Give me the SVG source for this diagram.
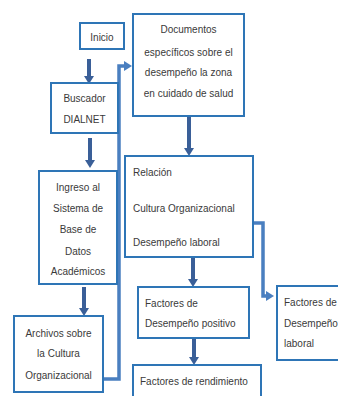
<svg xmlns="http://www.w3.org/2000/svg" width="338" height="396" viewBox="0 0 338 396">
<style>
.box{fill:#fff;stroke:#2e75b6;stroke-width:2}
.t{font-family:"Liberation Sans",Arial,sans-serif;font-size:10px;fill:#3a3a3a}
.c{text-anchor:middle}
.down{stroke:#3a5f98;stroke-width:4;fill:none}
.link{stroke:#4a7fc0;stroke-width:3.5;fill:none}
</style>
<defs>
<marker id="hd" viewBox="0 -5 8 10" refX="0" refY="0" markerUnits="userSpaceOnUse" markerWidth="8" markerHeight="10" orient="auto">
<path d="M0,-5 L8,0 L0,5 z" fill="#3a5f98"/>
</marker>
<marker id="hl" viewBox="0 -5 8 10" refX="0" refY="0" markerUnits="userSpaceOnUse" markerWidth="8" markerHeight="11" orient="auto">
<path d="M0,-5 L8,0 L0,5 z" fill="#4a7fc0"/>
</marker>
</defs>
<g id="connectors">
<line class="down" x1="89" y1="59" x2="89" y2="76" marker-end="url(#hd)"/>
<line class="down" x1="90" y1="138" x2="90" y2="160" marker-end="url(#hd)"/>
<line class="down" x1="84" y1="287" x2="84" y2="308" marker-end="url(#hd)"/>
<line class="down" x1="189" y1="116" x2="189" y2="148" marker-end="url(#hd)"/>
<line class="down" x1="193" y1="257" x2="193" y2="279" marker-end="url(#hd)"/>
<line class="down" x1="194" y1="338" x2="194" y2="357" marker-end="url(#hd)"/>
<path class="link" d="M103,379 H119 V66 H124" marker-end="url(#hl)"/>
<path class="link" d="M253,223 H263 V296 H266" marker-end="url(#hl)"/>
</g>
<g id="inicio">
<rect class="box" x="80" y="23" width="44" height="26"/>
<text class="t c" x="102" y="40.5">Inicio</text>
</g>
<g id="buscador">
<rect class="box" x="51" y="83" width="67" height="50"/>
<text class="t c" x="84.5" y="101.5">Buscador</text>
<text class="t c" x="84.5" y="122.5">DIALNET</text>
</g>
<g id="ingreso">
<rect class="box" x="39" y="171" width="78" height="113"/>
<text class="t c" x="78" y="190.5">Ingreso al</text>
<text class="t c" x="78" y="211.5">Sistema de</text>
<text class="t c" x="78" y="232.5">Base de</text>
<text class="t c" x="78" y="254.5">Datos</text>
<text class="t c" x="78" y="274.5">Académicos</text>
</g>
<g id="archivos">
<rect class="box" x="14" y="316" width="89" height="76"/>
<text class="t c" x="58.5" y="336.5">Archivos sobre</text>
<text class="t c" x="58.5" y="356.5">la Cultura</text>
<text class="t c" x="58.5" y="378.5">Organizacional</text>
</g>
<g id="documentos">
<rect class="box" x="133" y="14" width="111" height="102"/>
<text class="t c" x="188.5" y="32.5">Documentos</text>
<text class="t c" x="188.5" y="55.5">específicos sobre el</text>
<text class="t c" x="188.5" y="75.5">desempeño la zona</text>
<text class="t c" x="188.5" y="96.5">en cuidado de salud</text>
</g>
<g id="relacion">
<rect class="box" x="125" y="156" width="128" height="101"/>
<text class="t" x="133" y="175.5">Relación</text>
<text class="t" x="133" y="211.5">Cultura Organizacional</text>
<text class="t" x="133" y="245.5">Desempeño laboral</text>
</g>
<g id="positivo">
<rect class="box" x="138" y="287" width="111" height="51"/>
<text class="t" x="145" y="306.5">Factores de</text>
<text class="t" x="145" y="326.5">Desempeño positivo</text>
</g>
<g id="laboral">
<rect class="box" x="277" y="286" width="70" height="74"/>
<text class="t" x="284" y="305.5">Factores de</text>
<text class="t" x="284" y="326.5">Desempeño</text>
<text class="t" x="284" y="346.5">laboral</text>
</g>
<g id="rendimiento">
<rect class="box" x="133" y="365" width="128" height="40"/>
<text class="t" x="140" y="384.5">Factores de rendimiento</text>
</g>
</svg>
